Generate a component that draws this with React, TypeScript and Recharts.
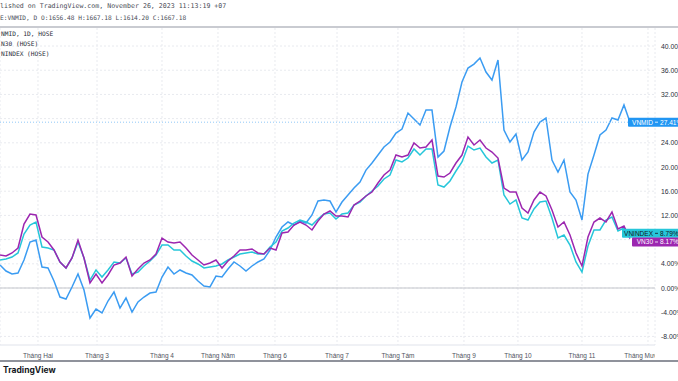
import { LineChart, Line, XAxis, YAxis, CartesianGrid, ReferenceLine } from "recharts";

// % change, one point every ~2 trading days
const vnmid = [
  3.8, 2.81, 2.31, 2.48, 4.63, 7.6, 7.93, 3.47, 3.31, 1.16,
  -1.49, -1.82, 0.17, 2.31, -0.33, -4.96, -3.47, -4.13, -2.15, -0.66,
  -3.31, -1.65, -3.97, -2.31, -1.49, -0.83, -0.66, 1.82, 3.47, 2.31,
  2.98, 2.48, 2.15, 1.16, 0.33, 0.17, 1.98, 1.82, 3.14, 4.3,
  3.64, 2.81, 3.64, 4.3, 4.79, 6.28, 8.43, 10.08, 10.91, 10.41,
  11.07, 10.74, 12.07, 14.38, 14.55, 14.38, 12.56, 14.21, 15.37, 16.53,
  17.52, 19.5, 20.66, 21.98, 23.31, 24.13, 25.62, 26.28, 28.93, 27.93,
  26.94, 29.42, 29.42, 21.65, 22.64, 26.61, 29.92, 34.05, 36.36, 37.02,
  38.02, 35.7, 34.38, 37.69, 26.12, 24.13, 25.45, 21.16, 22.48, 25.79,
  27.44, 28.1, 21.16, 19.17, 21.16, 15.87, 14.55, 11.24, 18.84, 21.98,
  25.29, 26.12, 28.1, 27.77, 30.25, 27.41,
];
const vn30 = [
  5.45, 5.29, 5.79, 6.61, 10.58, 12.23, 12.07, 8.43, 7.6, 6.28,
  4.3, 3.31, 4.96, 7.93, 4.96, 0.83, 2.31, 0.83, 2.15, 3.8,
  4.13, 5.12, 1.98, 3.14, 4.13, 4.63, 5.62, 8.26, 7.6, 7.44,
  7.6, 6.61, 5.45, 4.63, 3.8, 4.13, 4.63, 3.31, 4.46, 5.29,
  6.28, 6.28, 6.45, 5.79, 5.62, 6.61, 6.28, 9.09, 9.26, 10.41,
  10.91, 10.41, 9.59, 11.07, 12.23, 12.73, 11.9, 11.9, 11.74, 13.72,
  14.38, 15.21, 15.87, 17.36, 18.68, 19.5, 21.98, 21.65, 21.98, 23.97,
  23.14, 23.31, 24.46, 18.51, 18.35, 19.01, 20.66, 21.98, 24.96, 23.64,
  24.46, 23.14, 22.48, 21.49, 16.53, 15.87, 15.87, 13.22, 12.4, 14.55,
  15.87, 15.21, 12.89, 10.08, 10.91, 8.76, 5.79, 3.64, 8.43, 10.91,
  11.57, 10.91, 12.56, 9.75, 10.25, 8.17,
];
const vnindex = [
  4.63, 4.79, 5.12, 5.79, 8.93, 10.41, 10.91, 6.78, 6.61, 6.28,
  4.3, 3.31, 4.96, 7.6, 4.96, 1.32, 2.98, 1.82, 2.98, 4.3,
  4.13, 4.96, 2.31, 2.64, 3.64, 4.46, 5.45, 7.11, 7.11, 6.28,
  6.28, 5.29, 4.46, 3.97, 3.31, 3.47, 3.64, 3.97, 4.63, 5.12,
  5.62, 5.79, 5.95, 5.62, 5.62, 6.78, 7.6, 9.42, 9.92, 10.74,
  11.24, 10.91, 10.41, 11.4, 12.23, 12.4, 11.4, 12.23, 12.4, 13.72,
  14.21, 15.21, 16.03, 16.86, 18.02, 18.68, 21.16, 20.83, 21.49, 22.98,
  21.98, 22.98, 22.98, 17.02, 16.69, 17.69, 19.34, 20.83, 23.47, 22.81,
  23.14, 21.65, 20.66, 21.16, 15.37, 13.88, 14.55, 11.57, 11.24, 13.06,
  14.21, 14.38, 11.57, 8.26, 8.76, 7.11, 4.3, 2.64, 6.94, 9.59,
  9.59, 11.24, 11.74, 9.42, 9.92, 8.79,
];

const monthTicks = [6.33, 16.17, 27, 36.33, 45.83, 56.17, 66.33, 77.33, 86.33, 97, 108];
const monthLabels = [
  "Tháng Hai", "Tháng 3", "Tháng 4", "Tháng Năm", "Tháng 6", "Tháng 7",
  "Tháng Tám", "Tháng 9", "Tháng 10", "Tháng 11", "Tháng Mười Hai",
];
const gridTicks = [-8, -4, 0, 4, 8, 12, 16, 20, 24, 28, 32, 36, 40];
// 8% and 28% sit under the series labels, so they are not printed
const priceTicks = [-8, -4, 0, 4, 12, 16, 20, 24, 32, 36, 40];

const data = vnmid.map((v, i) => ({ i, vnmid: v, vn30: vn30[i], vnindex: vnindex[i] }));

const BLUE = "#3b9cf2";
const PURPLE = "#9c27b0";
const CYAN = "#26c6da";
const SANS = "'Liberation Sans', Arial, sans-serif";
const MONO = "'DejaVu Sans Mono', monospace";

function MonthTick({ x, y, payload }: any) {
  const label = monthLabels[monthTicks.indexOf(payload.value)];
  return (
    <text x={x} y={y + 11} textAnchor="middle" fontSize={6.5} fill="#50535e" fontFamily={SANS} clipPath="url(#scaleClip)">
      {label}
    </text>
  );
}

function PriceTick({ x, y, payload }: any) {
  return (
    <text x={x + 4} y={y + 2.5} fontSize={6.8} fill="#2a2e39" fontFamily={SANS}>
      {payload.value.toFixed(2)}%
    </text>
  );
}

function seriesLabel(name: string, value: number, fill: string, color: string, nameW: number, nudge: number) {
  return (props: any) => {
    const vb = props.viewBox;
    const right = vb.x + vb.width;
    const cy = vb.y + nudge;
    return (
      <g>
        <rect x={right - nameW} y={cy - 4.5} width={nameW + 60} height={9} fill={fill} rx={1} />
        <text x={right - 2} y={cy + 2.4} textAnchor="end" fontSize={6.5} fill={color} fontFamily={SANS}>
          {name}
        </text>
        <line x1={right} x2={right + 3} y1={cy} y2={cy} stroke={color} strokeWidth={0.8} />
        <text x={right + 5} y={cy + 2.4} fontSize={6.6} fill={color} fontFamily={SANS}>
          {value.toFixed(2)}%
        </text>
      </g>
    );
  };
}

export default function App() {
  return (
    <div style={{ position: "fixed", left: 0, top: 0, width: 678, height: 381, overflow: "hidden", background: "#fff" }}>
      <svg width={0} height={0} style={{ position: "absolute" }}>
        <defs>
          <clipPath id="scaleClip">
            <rect x={0} y={0} width={655} height={381} />
          </clipPath>
        </defs>
      </svg>
      <div style={{ position: "absolute", left: 0, top: 2, fontFamily: MONO, fontSize: 6.6, color: "#4a4d57", whiteSpace: "nowrap" }}>
        lished on TradingView.com, November 26, 2023 11:13:19 +07
      </div>
      <div style={{ position: "absolute", left: 0, top: 14, fontFamily: MONO, fontSize: 6.2, color: "#4a4d57", whiteSpace: "nowrap" }}>
        E:VNMID, D O:1656.48 H:1667.18 L:1614.20 C:1667.18
      </div>
      <div style={{ position: "absolute", left: 0, top: 26, width: 678, height: 2, background: "#c9cbd1" }} />
      <div style={{ position: "absolute", left: 0, top: 0 }}>
        <LineChart width={700} height={361} data={data} margin={{ top: 28, right: 0, left: 0, bottom: 0 }}>
          <CartesianGrid stroke="#e8eaef" strokeDasharray="2 2" horizontalValues={gridTicks} />
          <XAxis
            dataKey="i"
            type="number"
            domain={[0, 109.17]}
            allowDataOverflow
            ticks={monthTicks}
            tick={<MonthTick />}
            tickLine={false}
            tickSize={0}
            height={16}
            axisLine={{ stroke: "#e0e3eb" }}
            interval={0}
          />
          <YAxis
            orientation="right"
            type="number"
            domain={[-9.42, 42.98]}
            allowDataOverflow
            ticks={priceTicks}
            tick={<PriceTick />}
            tickLine={false}
            tickSize={0}
            axisLine={false}
            width={45}
            interval={0}
          />
          <ReferenceLine y={0} stroke="#c4c6cc" strokeWidth={1.2} />
          <Line type="linear" dataKey="vnmid" stroke={BLUE} strokeWidth={1.5} dot={false} isAnimationActive={false} />
          <Line type="linear" dataKey="vnindex" stroke={CYAN} strokeWidth={1.5} dot={false} isAnimationActive={false} />
          <Line type="linear" dataKey="vn30" stroke={PURPLE} strokeWidth={1.5} dot={false} isAnimationActive={false} />
          <ReferenceLine
            y={vnmid[vnmid.length - 1]}
            stroke="#90c8f8"
            strokeDasharray="1 2"
            label={seriesLabel("VNMID", vnmid[vnmid.length - 1], "#2196f3", "#fff", 27, 0)}
          />
          <ReferenceLine
            y={vnindex[vnindex.length - 1]}
            stroke="none"
            label={seriesLabel("VNINDEX", vnindex[vnindex.length - 1], CYAN, "#131722", 33, -1.5)}
          />
          <ReferenceLine
            y={vn30[vn30.length - 1]}
            stroke="none"
            label={seriesLabel("VN30", vn30[vn30.length - 1], PURPLE, "#fff", 23, 3.4)}
          />
        </LineChart>
      </div>
      <div style={{ position: "absolute", left: 1, top: 29, fontFamily: MONO, fontSize: 6.2, lineHeight: "10px", color: "#2a2e39", whiteSpace: "nowrap" }}>
        <div>NMID, 1D, HOSE</div>
        <div>N30 (HOSE)</div>
        <div>NINDEX (HOSE)</div>
      </div>
      <div style={{ position: "absolute", left: 0, top: 360, width: 678, height: 1.5, background: "#8f929b" }} />
      <div style={{ position: "absolute", left: 3, top: 365, fontFamily: "Inter, sans-serif", fontWeight: 700, fontSize: 8.5, color: "#131722", whiteSpace: "nowrap" }}>
        TradingView
      </div>
    </div>
  );
}
